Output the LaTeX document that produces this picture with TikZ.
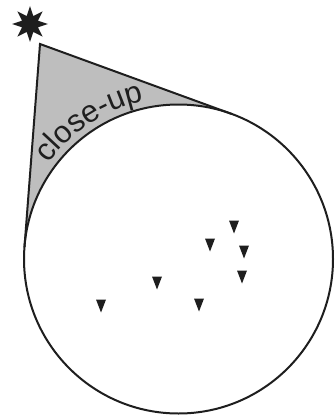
\documentclass[tikz,border=0pt]{standalone}
\usepackage{fontspec}
\setmainfont{Liberation Sans}
\usetikzlibrary{shapes.geometric, calc, decorations.text, backgrounds}

\definecolor{inkdark}{HTML}{1E1E1E}
\definecolor{conegray}{HTML}{BEBEBE}

\begin{document}
\begin{tikzpicture}[
    x=1pt, y=1pt,
    outline/.style={draw=inkdark, line width=2pt},
    marker/.style={fill=inkdark},
    sourcestar/.style={star, star points=8, star point ratio=2.1,
                       minimum size=36pt, inner sep=0pt, fill=inkdark}
  ]
  \useasboundingbox (0,-420) rectangle (335,0);

  % Field of view
  \node[circle, outline, minimum size=309pt, inner sep=0pt, outer sep=0pt]
    (lens) at (178.5,-259) {};
  \coordinate (apex) at (40,-44);
  \coordinate (tleft) at (tangent cs:node=lens, point={(apex)}, solution=1);
  \coordinate (tright) at (tangent cs:node=lens, point={(apex)}, solution=2);

  % Close-up cone
  \begin{scope}[on background layer]
    \fill[conegray] (apex) -- (tleft) -- (tright) -- cycle;
    \fill[white] (lens.center) circle[radius=154.5];
  \end{scope}
  \draw[outline, line join=miter] (tleft) -- (apex) -- (tright);

  \path[decorate, decoration={text along path, text align=center,
        text={|\fontsize{31}{31}\selectfont\color{inkdark}|close-up}}]
    (lens.center) ++(160:161.5) arc[start angle=160, end angle=86, radius=161.5];

  % Source
  \node[sourcestar] (source) at (30,-24) {};

  % Markers
  \foreach \x/\y in {234/227, 210/245, 244/252, 157/283,
                     242/277, 101/306, 199/305} {
    \fill[marker] (\x,-\y) ++(-5,6.5) -- ++(10,0) -- ++(-5,-13) -- cycle;
  }
\end{tikzpicture}
\end{document}
